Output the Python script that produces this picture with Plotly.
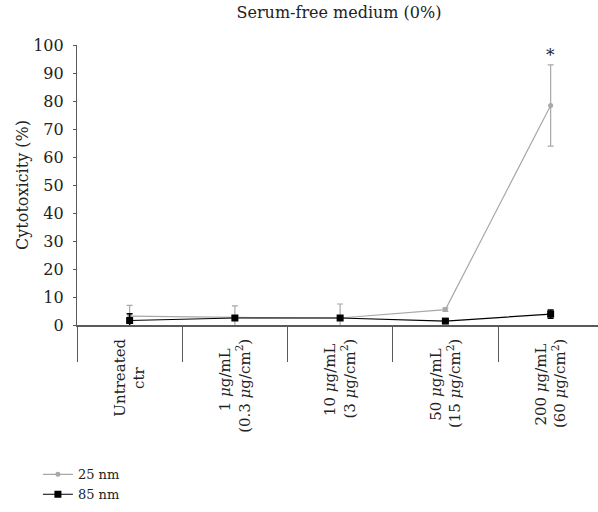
import plotly.graph_objects as go

categories = [
    ["Untreated", "ctr"],
    ["1 <i>μ</i>g/mL", "(0.3 <i>μ</i>g/cm<sup>2</sup>)"],
    ["10 <i>μ</i>g/mL", "(3 <i>μ</i>g/cm<sup>2</sup>)"],
    ["50 <i>μ</i>g/mL", "(15 <i>μ</i>g/cm<sup>2</sup>)"],
    ["200 <i>μ</i>g/mL", "(60 <i>μ</i>g/cm<sup>2</sup>)"],
]
series_names = ["25 nm", "85 nm"]
values_25nm = [3.2, 2.7, 2.5, 5.5, 78.4]
errors_25nm = [3.8, 4.1, 5.0, 0.6, 14.5]
values_85nm = [1.6, 2.5, 2.5, 1.4, 3.9]
errors_85nm = [2.4, 0.6, 0.6, 0.4, 1.5]
y_ticks = [0, 10, 20, 30, 40, 50, 60, 70, 80, 90, 100]
title_text = "Serum-free medium (0%)"
y_title = "Cytotoxicity (%)"
significance = "*"

FONT = "DejaVu Serif"
AXIS_COLOR = "#5a5a5a"
TEXT_COLOR = "#222222"
xidx = list(range(len(categories)))

W, H = 598, 512

# pad lines so that the two lines of each rotated label look centred
pad_counts = [[0, 6], [2, 0], [1, 0], [2, 0], [1, 0]]
ticktext = []
for (l1, l2), (p1, p2) in zip(categories, pad_counts):
    ticktext.append(l1 + "\u00a0" * p1 + "<br>" + l2 + "\u00a0" * p2)

fig = go.Figure()
fig.add_trace(go.Scatter(
    x=xidx, y=values_25nm, name=series_names[0], mode="lines+markers",
    line=dict(color="#a8a8a8", width=1.2),
    marker=dict(symbol="circle", size=5, color="#a8a8a8"),
    error_y=dict(type="data", array=errors_25nm, color="#a8a8a8", thickness=1.2, width=3),
))
fig.add_trace(go.Scatter(
    x=xidx, y=values_85nm, name=series_names[1], mode="lines+markers",
    line=dict(color="#000000", width=1.2),
    marker=dict(symbol="square", size=7, color="#000000"),
    error_y=dict(type="data", array=errors_85nm, color="#000000", thickness=1.5, width=3),
))
# invisible trace carrying the category-boundary tick axis
fig.add_trace(go.Scatter(
    x=xidx, y=values_85nm, xaxis="x2", mode="markers",
    marker=dict(opacity=0), showlegend=False, hoverinfo="skip",
))

fig.add_annotation(
    x=xidx[-1], y=values_25nm[-1] + errors_25nm[-1], text=significance,
    showarrow=False, yanchor="bottom", yshift=-2,
    font=dict(family=FONT, size=17, color=TEXT_COLOR),
)

xrange = [-0.5, len(categories) - 0.55]
fig.update_layout(
    width=W, height=H,
    margin=dict(l=77, r=0, t=45, b=187, autoexpand=False),
    paper_bgcolor="white", plot_bgcolor="white",
    font=dict(family=FONT, size=15, color=TEXT_COLOR),
    title=dict(text=title_text, x=339 / W, xref="container", xanchor="center",
               y=1 - 12 / H, yanchor="middle", yref="container",
               font=dict(family=FONT, size=16, color=TEXT_COLOR)),
    xaxis=dict(
        tickmode="array", tickvals=xidx, ticktext=ticktext,
        range=xrange, tickangle=-90, ticks="", showgrid=False, zeroline=False,
        showline=True, linecolor=AXIS_COLOR, linewidth=1.6,
        ticklabelstandoff=6,
        tickfont=dict(family=FONT, size=15, color=TEXT_COLOR),
    ),
    xaxis2=dict(
        overlaying="x", anchor="y", side="bottom",
        tickmode="array", tickvals=[i - 0.5 for i in xidx] + [len(categories) - 0.5],
        range=xrange, showticklabels=False, ticks="outside", ticklen=36,
        tickwidth=1.4, tickcolor=AXIS_COLOR, showgrid=False, zeroline=False, showline=False,
    ),
    yaxis=dict(
        range=[0, 100], tickvals=y_ticks, showgrid=False, zeroline=False,
        showline=True, linecolor=AXIS_COLOR, linewidth=1.2,
        ticks="outside", ticklen=3, tickcolor=AXIS_COLOR,
        ticklabelstandoff=6,
        tickfont=dict(family=FONT, size=16, color=TEXT_COLOR),
        title=dict(text=y_title, standoff=0, font=dict(family=FONT, size=16, color=TEXT_COLOR)),
    ),
    legend=dict(
        x=-0.075, xanchor="left", y=-0.48, yanchor="top",
        font=dict(family=FONT, size=13, color=TEXT_COLOR),
        itemwidth=30, tracegroupgap=0, bgcolor="rgba(0,0,0,0)",
    ),
    showlegend=True,
)

fig.write_html(
    "out.html",
    config={"displayModeBar": False},
    post_script="document.body.style.margin='0';document.body.style.overflow='hidden';",
)
